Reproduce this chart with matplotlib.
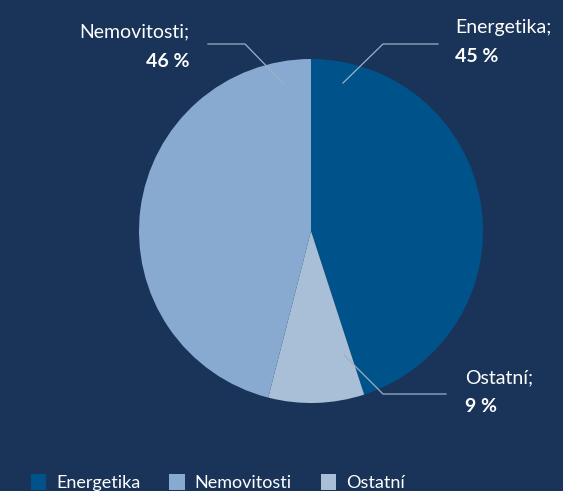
import matplotlib.pyplot as plt
from matplotlib.patches import Patch

plt.rcParams['font.family'] = ['Lato', 'DejaVu Sans']

labels = ["Energetika", "Ostatní", "Nemovitosti"]
values = [45, 9, 46]
colors = ["#00528b", "#a8bfd7", "#88aad0"]
legend_order = ["Energetika", "Nemovitosti", "Ostatní"]

BG = "#193458"
W, H = 563, 491

fig = plt.figure(figsize=(W / 100, H / 100), dpi=100, facecolor=BG)
ax = fig.add_axes([0, 0, 1, 1])
ax.set_facecolor(BG)

cx, cy, r = 311, H - 231, 172
wedges, _ = ax.pie(values, colors=colors, startangle=90, counterclock=False,
                   center=(cx, cy), radius=r, frame=True,
                   wedgeprops=dict(edgecolor='none', linewidth=0))
ax.set_xlim(0, W)
ax.set_ylim(0, H)
ax.set_aspect('equal')
ax.axis('off')

line_kw = dict(color="#9fb0c6", lw=0.9)
# leader lines (pixel coords, y from top)
leaders = {
    "Energetika": [(343, 83), (383, 44), (438, 44)],
    "Nemovitosti": [(283, 83), (245, 44), (208, 44)],
    "Ostatní": [(344, 355), (383, 394), (446, 394)],
}
for pts in leaders.values():
    ax.plot([p[0] for p in pts], [H - p[1] for p in pts], **line_kw)

pct = dict(zip(labels, values))
text_pos = {
    "Energetika": (455, 27, 'left'),
    "Nemovitosti": (189, 32, 'right'),
    "Ostatní": (465, 378, 'left'),
}
for name, (x, y, ha) in text_pos.items():
    ax.text(x, H - y, name + ";", color="white", fontsize=14, ha=ha, va='center')
    ax.text(x, H - y - 29, f"{pct[name]} %", color="white", fontsize=14,
            fontweight='bold', ha=ha, va='center')

cmap = dict(zip(labels, colors))
handles = [Patch(facecolor=cmap[n], edgecolor='none') for n in legend_order]
fig.legend(handles, legend_order, loc='lower left', bbox_to_anchor=(31 / W, 0.0),
           ncol=3, frameon=False, fontsize=13, labelcolor='white',
           borderpad=0, borderaxespad=0,
           handlelength=0.85, handleheight=1.0, handletextpad=0.55, columnspacing=1.6)

fig.savefig("out.png", dpi=100, facecolor=BG)
